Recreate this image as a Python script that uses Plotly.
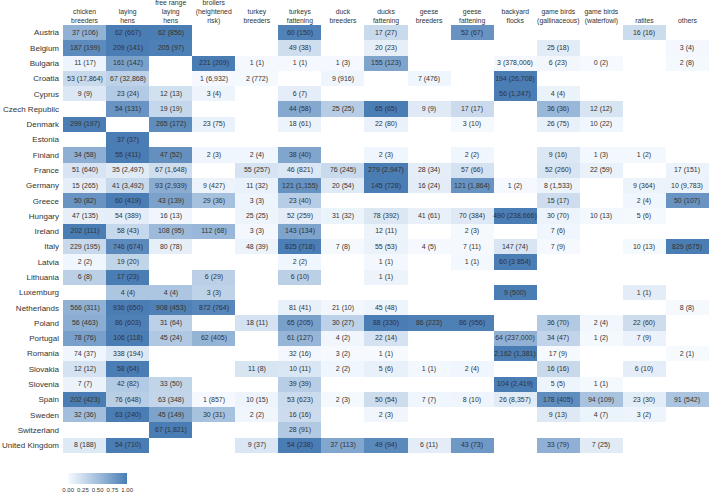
import plotly.graph_objects as go

N = None

countries = ["Austria", "Belgium", "Bulgaria", "Croatia", "Cyprus", "Czech Republic", "Denmark",
             "Estonia", "Finland", "France", "Germany", "Greece", "Hungary", "Ireland", "Italy",
             "Latvia", "Lithuania", "Luxemburg", "Netherlands", "Poland", "Portugal", "Romania",
             "Slovakia", "Slovenia", "Spain", "Sweden", "Switzerland", "United Kingdom"]

categories = ["chicken<br>breeders", "laying<br>hens", "free range<br>laying<br>hens",
              "broilers<br>(heightened<br>risk)", "turkey<br>breeders", "turkeys<br>fattening",
              "duck<br>breeders", "ducks<br>fattening", "geese<br>breeders", "geese<br>fattening",
              "backyard<br>flocks", "game birds<br>(gallinaceous)", "game birds<br>(waterfowl)",
              "ratites", "others"]

# first number in each cell
cases = [
    [37, 62, 62, N, N, 60, N, 17, N, 52, N, N, N, 16, N],
    [187, 209, 205, N, N, 49, N, 20, N, N, N, 25, N, N, 3],
    [11, 161, N, 221, 1, 1, 1, 155, N, N, 3, 6, 0, N, 2],
    [53, 67, N, 1, 2, N, 9, N, 7, N, 194, N, N, N, N],
    [9, 23, 12, 3, N, 6, N, N, N, N, 56, 4, N, N, N],
    [N, 54, 19, N, N, 44, 25, 65, 9, 17, N, 36, 12, N, N],
    [299, N, 265, 23, N, 18, N, 22, N, 3, N, 26, 10, N, N],
    [N, 37, N, N, N, N, N, N, N, N, N, N, N, N, N],
    [34, 55, 47, 2, 2, 38, N, 2, N, 2, N, 9, 1, 1, N],
    [51, 35, 67, N, 55, 46, 76, 279, 28, 57, N, 52, 22, N, 17],
    [15, 41, 93, 9, 11, 121, 20, 145, 16, 121, 1, 8, N, 9, 10],
    [50, 60, 43, 29, 3, 23, N, N, N, N, N, 15, N, 2, 50],
    [47, 54, 16, N, 25, 52, 31, 78, 41, 70, 490, 30, 10, 5, N],
    [202, 58, 108, 112, 3, 143, N, 12, N, 2, N, 7, N, N, N],
    [229, 746, 80, N, 48, 825, 7, 55, 4, 7, 147, 7, N, 10, 829],
    [2, 19, N, N, N, 2, N, 1, N, 1, 60, N, N, N, N],
    [6, 17, N, 6, N, 6, N, 1, N, N, N, N, N, N, N],
    [N, 4, 4, 3, N, N, N, N, N, N, 9, N, N, 1, N],
    [566, 936, 908, 872, N, 81, 21, 45, N, N, N, N, N, N, 8],
    [56, 86, 31, N, 18, 65, 30, 88, 86, 86, N, 36, 2, 22, N],
    [78, 106, 45, 62, N, 61, 4, 22, N, N, 64, 34, 1, 7, N],
    [74, 338, N, N, N, 32, 3, 1, N, N, 2162, 17, N, N, 2],
    [12, 58, N, N, 11, 10, 2, 5, 1, 2, N, 16, N, 6, N],
    [7, 42, 33, N, N, 39, N, N, N, N, 104, 5, 1, N, N],
    [202, 76, 63, 1, 10, 53, 2, 50, 7, 8, 26, 178, 94, 23, 91],
    [32, 63, 45, 30, 2, 16, N, 2, N, N, N, 9, 4, 3, N],
    [N, N, 67, N, N, 28, N, N, N, N, N, N, N, N, N],
    [8, 54, N, N, 9, 54, 37, 49, 6, 43, N, 33, 7, N, N],
]

# number in brackets in each cell
brackets = [
    ["106", "667", "856", N, N, "150", N, "27", N, "67", N, N, N, "16", N],
    ["199", "141", "97", N, N, "38", N, "23", N, N, N, "18", N, N, "4"],
    ["17", "142", N, "209", "1", "1", "3", "123", N, N, "378,006", "23", "2", N, "8"],
    ["17,864", "32,868", N, "6,932", "772", N, "916", N, "476", N, "26,708", N, N, N, N],
    ["9", "24", "13", "4", N, "7", N, N, N, N, "1,247", "4", N, N, N],
    [N, "131", "19", N, N, "58", "25", "65", "9", "17", N, "36", "12", N, N],
    ["197", N, "172", "75", N, "61", N, "80", N, "10", N, "75", "22", N, N],
    [N, "37", N, N, N, N, N, N, N, N, N, N, N, N, N],
    ["58", "411", "52", "3", "4", "40", N, "3", N, "2", N, "16", "3", "2", N],
    ["640", "2,497", "1,648", N, "257", "821", "245", "2,947", "34", "66", N, "260", "59", N, "151"],
    ["265", "3,492", "2,939", "427", "32", "1,155", "54", "728", "24", "1,864", "2", "1,533", N, "364", "9,783"],
    ["82", "419", "139", "36", "3", "40", N, N, N, N, N, "17", N, "4", "107"],
    ["135", "389", "13", N, "25", "259", "32", "392", "61", "384", "238,666", "70", "13", "6", N],
    ["111", "43", "95", "68", "3", "134", N, "11", N, "3", N, "6", N, N, N],
    ["195", "674", "78", N, "39", "718", "8", "53", "5", "11", "74", "9", N, "13", "675"],
    ["2", "20", N, N, N, "2", N, "1", N, "1", "3 854", N, N, N, N],
    ["8", "23", N, "29", N, "10", N, "1", N, N, N, N, N, N, N],
    [N, "4", "4", "3", N, N, N, N, N, N, "500", N, N, "1", N],
    ["311", "650", "453", "764", N, "41", "10", "48", N, N, N, N, N, N, "8"],
    ["463", "603", "64", N, "11", "205", "27", "330", "223", "956", N, "70", "4", "60", N],
    ["76", "118", "24", "405", N, "127", "2", "14", N, N, "237,000", "47", "2", "9", N],
    ["37", "194", N, N, N, "16", "2", "1", N, N, "1,381", "9", N, N, "1"],
    ["12", "64", N, N, "8", "11", "2", "6", "1", "4", N, "16", N, "10", N],
    ["7", "82", "50", N, N, "39", N, N, N, N, "2,419", "5", "1", N, N],
    ["423", "648", "348", "857", "15", "623", "3", "54", "7", "10", "8,357", "405", "109", "30", "542"],
    ["36", "240", "149", "31", "2", "16", N, "3", N, N, N, "13", "7", "2", N],
    [N, N, "1,821", N, N, "91", N, N, N, N, N, N, N, N, N],
    ["188", "710", N, N, "37", "238", "113", "94", "11", "73", N, "79", "25", N, N],
]

colorbar_ticks = [0, 0.25, 0.5, 0.75, 1]
colorbar_labels = ["0.00", "0.25", "0.50", "0.75", "1.00"]

# row-normalised colour values
z = []
text = []
for row_c, row_b in zip(cases, brackets):
    mx = max(v for v in row_c if v is not None)
    z.append([None if v is None else v / mx for v in row_c])
    text.append(["" if v is None else f"{v:,} ({b})" for v, b in zip(row_c, row_b)])

FONT = "Liberation Sans, Arial, sans-serif"

fig = go.Figure(go.Heatmap(
    z=z, x=categories, y=countries, text=text,
    texttemplate="%{text}",
    textfont=dict(size=7, color="#333333", family=FONT),
    colorscale=[[0, "#f6faff"], [0.5, "#a3bfdd"], [1, "#4a7db4"]],
    zmin=0, zmax=1,
    hoverongaps=False,
    colorbar=dict(
        orientation="h", x=0.008, xanchor="left", y=-0.046, yanchor="top",
        len=59, lenmode="pixels", thickness=11, outlinewidth=0,
        xpad=0, ypad=0,
        tickvals=colorbar_ticks, ticktext=colorbar_labels, ticks="",
        tickangle=0, tickfont=dict(size=6, color="#333333", family=FONT),
    ),
))

fig.update_layout(
    width=709, height=493,
    margin=dict(l=63, r=0, t=25, b=40),
    paper_bgcolor="white", plot_bgcolor="white",
    font=dict(family=FONT, color="#333333"),
    xaxis=dict(side="top", showgrid=False, zeroline=False, ticks="", tickangle=0,
               automargin=False, tickfont=dict(size=6.8, color="#333333"),
               ticklabelstandoff=0),
    yaxis=dict(autorange="reversed", showgrid=False, zeroline=False, ticks="",
               automargin=False, tickfont=dict(size=8, color="#333333"),
               ticklabelstandoff=3),
)

fig.write_html("out.html", config={"displayModeBar": False},
               post_script="document.body.style.margin='0';document.body.style.overflow='hidden';")
